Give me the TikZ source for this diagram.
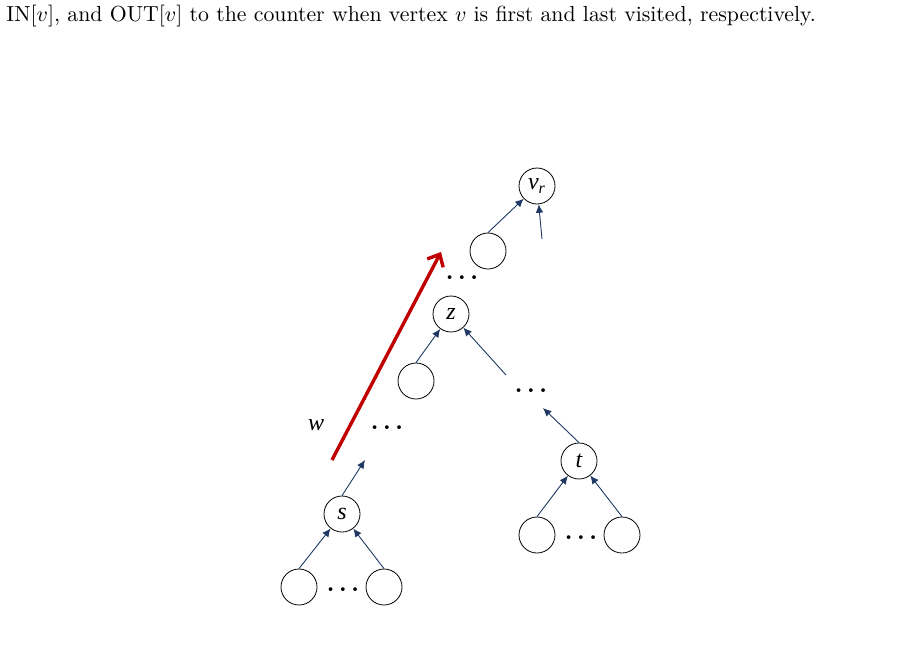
\documentclass[tikz,border=0pt]{standalone}
\usepackage{amsmath, amssymb}
\usepackage{fontspec}
\usepackage{tikz}
\usetikzlibrary{arrows.meta}
\newfontfamily\labelfont{Liberation Serif}
\definecolor{edgeblue}{HTML}{1F3864}
\definecolor{pathred}{HTML}{C00000}

\begin{document}
\begin{tikzpicture}[x=0.5pt, y=-0.5pt,
    every node/.style={inner sep=0pt},
    vertex/.style={draw=black, line width=0.4pt, circle, minimum size=18pt,
        font=\labelfont\fontsize{12}{14}\selectfont\itshape},
    edge/.style={draw=edgeblue, line width=0.45pt, -{Latex[length=4.2pt, width=3.8pt]}},
    gap/.style={font=\fontsize{12}{14}\selectfont\boldmath},
    walk/.style={draw=pathred, line width=1.7pt, -{Straight Barb[length=5pt, width=9pt]}}]
            \useasboundingbox (0,0) rectangle (899,664);
            \node [anchor=base west, font=\fontsize{10.9}{13}\selectfont] (caption) at (6,21)
                {IN[$v$], and OUT[$v$] to the counter when vertex $v$ is first and last visited, respectively.};
            % vertices
            \node [vertex] (vr) at (537,186) {v\textsubscript{r}};
            \node [vertex] (va) at (488,251) {};
            \node [vertex] (z) at (451,314) {z};
            \node [vertex] (zl) at (416,381) {};
            \node [vertex] (s) at (342,514) {s};
            \node [vertex] (sl) at (299,587) {};
            \node [vertex] (sr) at (384,587) {};
            \node [vertex] (t) at (579,461) {t};
            \node [vertex] (tl) at (537,535) {};
            \node [vertex] (tr) at (622,535) {};
            % gaps
            \node [gap] (g1) at (462,278) {$\ldots$};
            \node [gap] (g2) at (531,391) {$\ldots$};
            \node [gap] (g3) at (387,428) {$\ldots$};
            \node [gap] (g4) at (343,590) {$\ldots$};
            \node [gap] (g5) at (581,538) {$\ldots$};
            % loose ends
            \coordinate (vrin) at (542,239);
            \coordinate (zin) at (506,375);
            \coordinate (sout) at (365,460);
            \coordinate (tout) at (543,408);
            % tree edges
            \draw [edge] (va.north) -- (vr);
            \draw [edge] (vrin) -- (vr);
            \draw [edge] (zl.north) -- (z);
            \draw [edge] (zin) -- (z);
            \draw [edge] (sl.north) -- (s);
            \draw [edge] (sr.north) -- (s);
            \draw [edge] (s.north) -- (sout);
            \draw [edge] (tl.north) -- (t);
            \draw [edge] (tr.north) -- (t);
            \draw [edge] (t.north) -- (tout);
            % the walk w
            \coordinate (wfrom) at (332,460);
            \coordinate (wto) at (441,252);
            \draw [walk] (wfrom) -- (wto);
            \node [font=\labelfont\fontsize{12}{14}\selectfont\itshape] (wlabel) at (316,425) {w};
\end{tikzpicture}
\end{document}
